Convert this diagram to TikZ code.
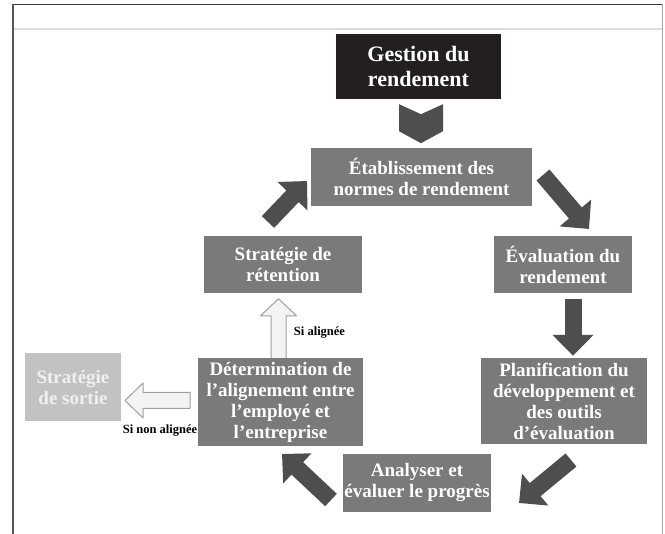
\documentclass[tikz,border=0pt]{standalone}
\usepackage{fontspec}
\setmainfont{Liberation Serif}
\usetikzlibrary{arrows.meta,calc}
\definecolor{boxgray}{HTML}{7A7A7A}
\definecolor{headblack}{HTML}{231F20}
\definecolor{arrowgray}{HTML}{4E4E4E}
\definecolor{lightbox}{HTML}{C2C2C2}
\definecolor{hollowfill}{HTML}{F3F3F3}
\definecolor{hollowline}{HTML}{A0A0A0}
\tikzset{
  stagebox/.style={fill=boxgray, text=white, font=\fontsize{19}{21}\selectfont\bfseries,
    align=center, inner sep=0pt},
  headbox/.style={fill=headblack, text=white, font=\fontsize{22}{25}\selectfont\bfseries,
    align=center, inner sep=0pt},
  exitbox/.style={fill=lightbox, text=white!94!black, font=\fontsize{19}{21}\selectfont\bfseries,
    align=center, inner sep=0pt},
  blockarrow/.style={draw=arrowgray, line width=17pt, -{Triangle[width=40pt,length=21pt]}},
  hollowarrow/.style={fill=hollowfill, draw=hollowline, line width=1pt, line join=round},
  condlabel/.style={font=\fontsize{12.5}{14}\selectfont\bfseries, text=black, inner sep=0pt}
}
\begin{document}
\begin{tikzpicture}[x=1pt,y=-1pt]
\useasboundingbox (0,0) rectangle (665,534);
\fill[white] (0,0) rectangle (665,534);
% frame
\draw[draw={rgb,255:red,220;green,220;blue,220}, line width=2pt] (13,29) -- (662,29);
\draw[draw={rgb,255:red,60;green,60;blue,60}, line width=1.5pt] (12,4.5) -- (663,4.5);
\draw[draw={rgb,255:red,170;green,170;blue,170}, line width=1.5pt] (662.5,4) -- (662.5,534);
\draw[draw={rgb,255:red,85;green,85;blue,85}, line width=2pt] (13,4) -- (13,534);

% nodes
\node[headbox, minimum width=165pt, minimum height=65pt] (g) at (418.5,66.5) {Gestion du\\rendement};
\node[stagebox, minimum width=221pt, minimum height=58pt] (etab) at (421.5,177) {Établissement des\\normes de rendement};
\node[stagebox, minimum width=138pt, minimum height=57pt] (eval) at (563,264.5) {Évaluation du\\rendement};
\node[stagebox, minimum width=166pt, minimum height=86pt] (plan) at (564,401) {Planification du\\développement et\\des outils\\d’évaluation};
\node[stagebox, minimum width=148pt, minimum height=58pt] (ana) at (417,483) {Analyser et\\évaluer le progrès};
\node[stagebox, minimum width=165pt, minimum height=88pt] (det) at (280.5,402) {Détermination de\\l’alignement entre\\l’employé et\\l’entreprise};
\node[stagebox, minimum width=158pt, minimum height=57pt] (ret) at (283,264.5) {Stratégie de\\rétention};
\node[exitbox, minimum width=96pt, minimum height=68pt] (sortie) at (73,387) {Stratégie\\de sortie};

% labels
\node[condlabel] (lal) at (319.5,333) {Si alignée};
\node[condlabel] (lnal) at (160,431) {Si non alignée};

% chevron from g to etab
\coordinate (chev) at ($(g.south)+(2.5,5)$);
\fill[arrowgray] (chev) ++(-22,0) -- ++(22,10) -- ++(22,-10) -- ++(0,27) -- ++(-22,12) -- ++(-22,-12) -- cycle;

% block arrows
\coordinate (a1s) at (543,175);
\coordinate (a1e) at (589,229);
\draw[blockarrow] (a1s) -- (a1e);
\coordinate (a2s) at ($(eval.south)+(10,6)$);
\coordinate (a2e) at ($(plan.north)+(9,-2)$);
\draw[blockarrow] (a2s) -- (a2e);
\coordinate (a3s) at (571,460);
\coordinate (a3e) at (519,503);
\draw[blockarrow] (a3s) -- (a3e);
\coordinate (a4s) at (331,500);
\coordinate (a4e) at (282,454);
\draw[blockarrow] (a4s) -- (a4e);
\coordinate (a5s) at (268,222);
\coordinate (a5e) at (307,181);
\draw[blockarrow] (a5s) -- (a5e);

% hollow arrows
\coordinate (upbase) at ($(det.north)+(-2,0)$);
\draw[hollowarrow] (upbase) ++(-7.5,0) -- ++(0,-42) -- ++(-10.5,0) -- ++(18,-17) -- ++(18,17) -- ++(-10.5,0) -- ++(0,42);
\coordinate (lefttail) at (190,400.5);
\draw[hollowarrow] (lefttail) ++(0,-8) -- ++(-47,0) -- ++(0,-9.5) -- ++(-18,17.5) -- ++(18,17.5) -- ++(0,-9.5) -- ++(47,0) -- cycle;
\end{tikzpicture}
\end{document}
